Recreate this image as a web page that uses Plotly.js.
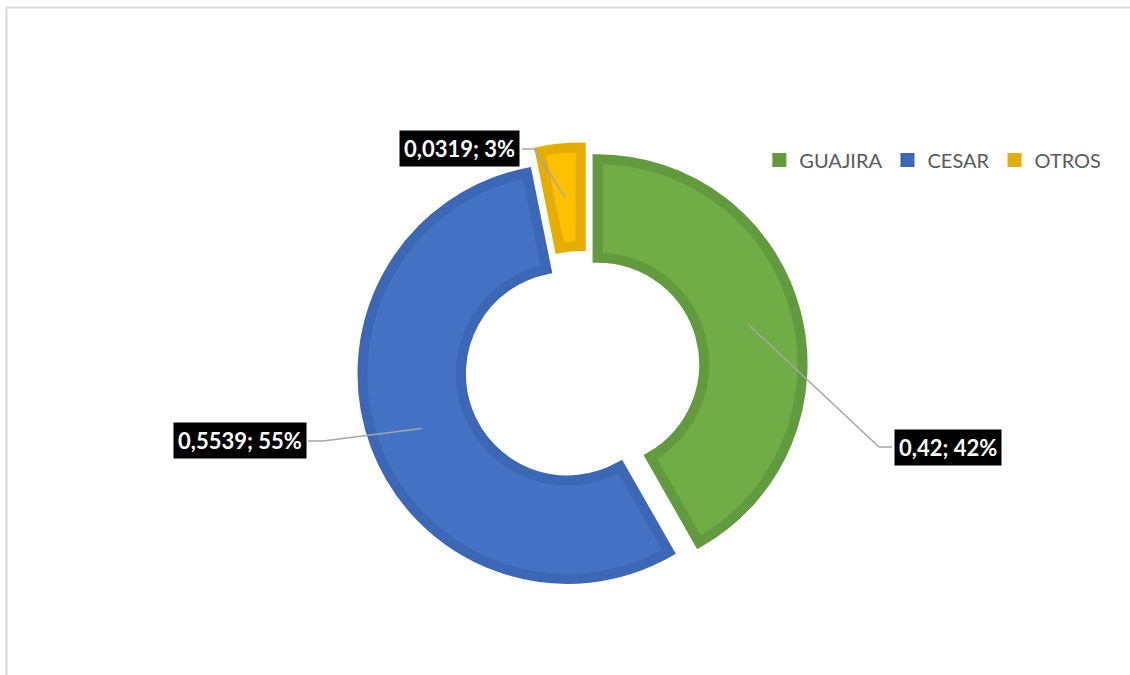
<!DOCTYPE html>
<html>
<head>
<meta charset="utf-8">
<script src="https://cdn.plot.ly/plotly-3.0.1.min.js"></script>
<style>
html,body{margin:0;padding:0;background:#fff;}
#chart{width:1130px;height:675px;}
#chart .slice path{stroke-linejoin:miter !important;}
#chart .legend path.legendpie{stroke-width:2px !important;}
#chart .legend .traces:nth-of-type(1) path.legendpie{fill:#629B3E !important;}
#chart .legend .traces:nth-of-type(2) path.legendpie{fill:#3C67B5 !important;}
#chart .legend .traces:nth-of-type(3) path.legendpie{fill:#E5AD00 !important;}
</style>
</head>
<body>
<div id="chart"></div>
<script>
// ---- data ----
const labels = ['GUAJIRA', 'CESAR', 'OTROS'];
const values = [0.42, 0.5539, 0.0319];
const valueLabels = ['0,42', '0,5539', '0,0319'];
const fillColors = ['#70AD47', '#4472C4', '#FFC000'];
const lineColors = ['#629B3E', '#3C67B5', '#E5AD00'];

// ---- layout constants ----
const W = 1130, H = 675;
const CX = 582.3, CY = 368.3;     // pie centre (px)
const R = 205, HOLE = 0.52, PULL = 0.077;
const D = 2 * R * (1 + PULL);
const px = (x, y) => [x / W, 1 - y / H];

const total = values.reduce((a, b) => a + b, 0);
const pctText = values.map(v => Math.round(v / total * 100) + '%');
const labelText = valueLabels.map((v, i) => v + '; ' + pctText[i]);

// label box centres, elbows and box attach points (px)
const boxPos = [[948, 447], [239.5, 440.5], [459.5, 149]];
const elbow = [[879, 447], [323, 441], [534, 149]];
const attach = [[892, 447], [308, 441], [522, 149]];

// leader start: middle of ring at slice bisector, after pull
let cum = 0;
const midPts = values.map(v => {
  const a = (cum + v / 2) / total * 2 * Math.PI;
  cum += v;
  const rr = R * (1 + HOLE) / 2 + R * PULL;
  return [CX + rr * Math.sin(a), CY - rr * Math.cos(a)];
});

const shapes = [{
  type: 'rect', xref: 'paper', yref: 'paper',
  x0: 6.5 / W, y0: -0.02, x1: 1.02, y1: 1 - 7.5 / H,
  line: {color: '#D9D9D9', width: 2}, layer: 'below'
}];
midPts.forEach((p, i) => {
  const a = px(p[0], p[1]), b = px(elbow[i][0], elbow[i][1]), c = px(attach[i][0], attach[i][1]);
  shapes.push({
    type: 'path', xref: 'paper', yref: 'paper',
    path: `M ${a[0]} ${a[1]} L ${b[0]} ${b[1]} L ${c[0]} ${c[1]}`,
    line: {color: '#A6A6A6', width: 1.5}
  });
});

const annotations = labelText.map((t, i) => {
  const p = px(boxPos[i][0], boxPos[i][1]);
  return {
    xref: 'paper', yref: 'paper', x: p[0], y: p[1],
    xanchor: 'center', yanchor: 'middle', showarrow: false,
    text: '<b>' + t + '</b>', bgcolor: '#000000', borderpad: 4,
    font: {family: 'Lato, "Open Sans", sans-serif', size: 22, color: '#FFFFFF'}
  };
});

const trace = {
  type: 'pie',
  labels: labels,
  values: values,
  hole: HOLE,
  sort: false,
  direction: 'clockwise',
  rotation: 0,
  pull: [PULL, PULL, PULL],
  textinfo: 'none',
  hoverinfo: 'label+value+percent',
  marker: {colors: fillColors, line: {color: lineColors, width: 10}},
  domain: {
    x: [(CX - D / 2) / W, (CX + D / 2) / W],
    y: [1 - (CY + D / 2) / H, 1 - (CY - D / 2) / H]
  }
};

const layout = {
  width: W, height: H,
  margin: {l: 0, r: 0, t: 0, b: 0},
  paper_bgcolor: '#FFFFFF',
  showlegend: true,
  legend: {
    orientation: 'h', x: 0.672, y: 1 - 160 / H, xanchor: 'left', yanchor: 'middle',
    font: {family: 'Lato, "Open Sans", sans-serif', size: 20, color: '#595959'},
    itemwidth: 30, traceorder: 'normal'
  },
  shapes: shapes,
  annotations: annotations
};

Plotly.newPlot('chart', [trace], layout, {displayModeBar: false, staticPlot: true});
</script>
</body>
</html>
